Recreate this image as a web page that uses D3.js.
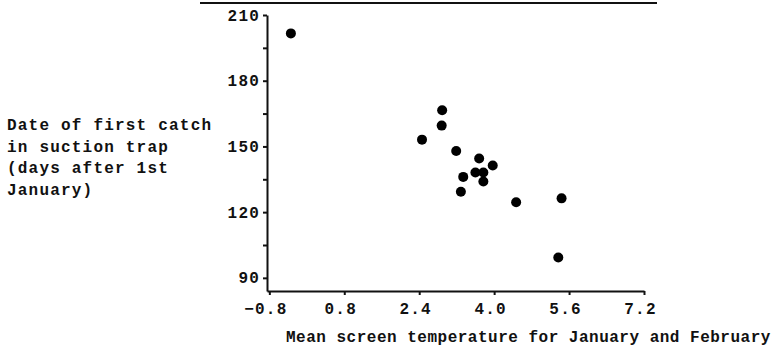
<!DOCTYPE html>
<html>
<head>
<meta charset="utf-8">
<script src="https://cdn.jsdelivr.net/npm/d3@7"></script>
<style>
  body { margin: 0; background: #fff; }
  svg text { font-family: "Liberation Mono", "DejaVu Sans Mono", monospace; font-weight: bold; font-size: 16px; letter-spacing: 1.2px; fill: #111; }
  svg text.xtitle { letter-spacing: 0.5px; }
</style>
</head>
<body>
<div id="chart"></div>
<script>
// mean Jan+Feb screen temperature (x) vs date of first catch (y)
var temperature = [-0.34, 2.89, 2.88, 2.46, 3.19, 3.68, 3.97, 3.60, 3.77, 3.34, 3.77, 3.29, 4.47, 5.44, 5.37];
var firstCatch  = [201.6, 166.5, 159.5, 153.1, 147.9, 144.5, 141.3, 138.1, 138.1, 136.1, 134.0, 129.3, 124.5, 126.3, 99.3];

var xTicks = [-0.8, 0.8, 2.4, 4.0, 5.6, 7.2];
var yTicks = [90, 105, 120, 135, 150, 165, 180, 195, 210];
var yLabelled = [90, 120, 150, 180, 210];

var yTitle = ["Date of first catch", "in suction trap", "(days after 1st", "January)"];
var xTitle = "Mean screen temperature for January and February";

var width = 781, height = 353;

var svg = d3.select("#chart").append("svg")
  .attr("width", width)
  .attr("height", height);

var x = d3.scaleLinear().domain([-0.85, 7.2]).range([267, 644]);
var y = d3.scaleLinear().domain([84, 210]).range([291, 15]);

// underline of the (cropped) title
svg.append("line")
  .attr("x1", 200).attr("x2", 657)
  .attr("y1", 3).attr("y2", 3)
  .attr("stroke", "#111").attr("stroke-width", 2);

// x axis
var gx = svg.append("g")
  .attr("transform", "translate(0," + y(84) + ")")
  .call(d3.axisBottom(x).tickValues(xTicks).tickSize(4).tickSizeOuter(0).tickPadding(8)
    .tickFormat(d3.format(".1f")));

// y axis
var gy = svg.append("g")
  .attr("transform", "translate(" + x(-0.85) + ",0)")
  .call(d3.axisLeft(y).tickValues(yTicks).tickSize(4).tickSizeOuter(0).tickPadding(5)
    .tickFormat(d => yLabelled.includes(d) ? d : ""));

[gx, gy].forEach(g => {
  g.attr("font-family", null).attr("font-size", null);
  g.select(".domain").attr("stroke", "#111").attr("stroke-width", 2);
  g.selectAll(".tick line").attr("stroke", "#111").attr("stroke-width", 2);
});
gx.selectAll(".tick text").attr("dx", -4);
gy.selectAll(".tick text").attr("dx", 2);

// points
svg.append("g").selectAll("circle")
  .data(temperature)
  .enter()
  .append("circle")
  .attr("cx", d => x(d))
  .attr("cy", (d, i) => y(firstCatch[i]))
  .attr("r", 5)
  .attr("fill", "#000");

// y title (left block)
svg.append("g").selectAll("text")
  .data(yTitle)
  .enter()
  .append("text")
  .attr("x", 7)
  .attr("y", (d, i) => 130 + i * 21.5)
  .text(d => d);

// x title
svg.append("text")
  .attr("class", "xtitle")
  .attr("x", 286)
  .attr("y", 342)
  .text(xTitle);
</script>
</body>
</html>
